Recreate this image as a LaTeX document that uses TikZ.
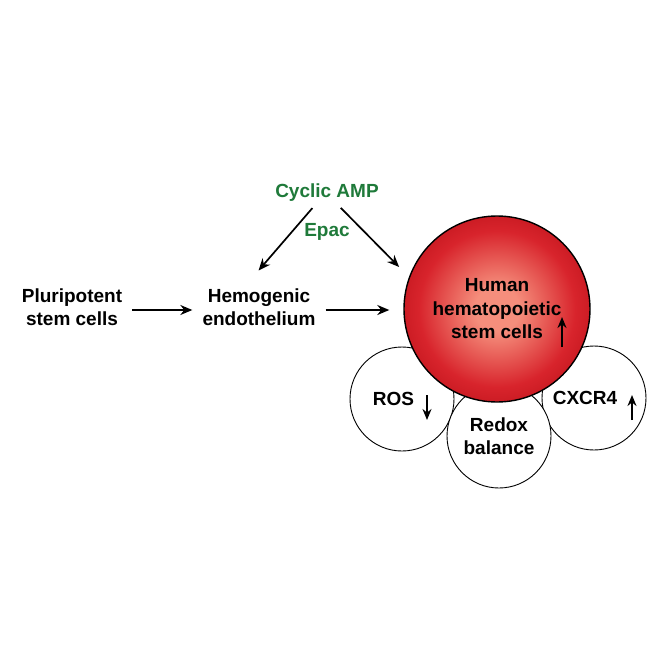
\documentclass[tikz,border=0pt]{standalone}
\usepackage{fontspec}
\setmainfont{Liberation Sans}
\usetikzlibrary{arrows.meta}
\definecolor{campgreen}{RGB}{31,122,58}
\definecolor{hsclight}{RGB}{245,142,124}
\definecolor{hscred}{RGB}{216,36,44}
\definecolor{hscdark}{RGB}{204,28,36}
\pgfdeclareradialshading{hscglow}{\pgfpoint{0bp}{0bp}}{color(0bp)=(hsclight); color(6bp)=(hsclight); color(21bp)=(hscred); color(25bp)=(hscdark); color(50bp)=(hscdark)}
\newcommand\lblfont{\bfseries\fontsize{19}{23.5}\selectfont}

\begin{document}
\begin{tikzpicture}[x=1pt,y=-1pt,
  lbl/.style={font=\lblfont, align=center, inner sep=10pt},
  agent/.style={font=\lblfont, text=campgreen, inner sep=3pt},
  flow/.style={-{Stealth[length=12pt,width=10pt]}, line width=1.7pt},
  tick/.style={-{Stealth[length=11pt,width=9pt]}, line width=1.8pt},
  bubble/.style={circle, draw, fill=white, line width=0.9pt, minimum size=104pt, inner sep=0pt, font=\lblfont, align=center}]
  \useasboundingbox (0,0) rectangle (664,664);

  \node[lbl] (psc) at (72,307) {Pluripotent\\stem cells};
  \node[lbl] (he) at (259,307) {Hemogenic\\endothelium};
  \node[agent] (camp) at (327,193) {Cyclic AMP};
  \node[agent] (epac) at (327,232) {Epac};

  % niche around the stem cell
  \node[bubble] (ros) at (402,399) {ROS\hspace{17pt}};
  \node[bubble] (cxcr) at (594,398) {CXCR4\hspace{18pt}};
  \node[bubble] (redox) at (499,436) {Redox\\balance};
  \node[circle, draw, line width=1.4pt, minimum size=186pt, inner sep=0pt, shading=hscglow, font=\lblfont, align=center] (hsc) at (497,309) {Human\\hematopoietic\\stem cells};

  \draw[flow] ([yshift=-3pt]psc.east) -- ([yshift=-3pt]he.west);
  \draw[flow, shorten >=14pt] ([yshift=-3pt]he.east) -- ([yshift=-3pt]he.east -| hsc.west);
  \draw[flow, shorten <=4pt, shorten >=10pt] ([xshift=-12pt]camp.south) -- ([xshift=-7pt]he.north);
  \draw[flow, shorten <=4pt, shorten >=14pt] ([xshift=11pt]camp.south) -- (hsc.160);

  \draw[tick] ([xshift=65pt,yshift=-38pt]hsc.center) -- ([xshift=65pt,yshift=-8pt]hsc.center);
  \draw[tick] ([xshift=25pt,yshift=4pt]ros.center) -- ([xshift=25pt,yshift=-21pt]ros.center);
  \draw[tick] ([xshift=38pt,yshift=-22pt]cxcr.center) -- ([xshift=38pt,yshift=3pt]cxcr.center);
\end{tikzpicture}
\end{document}
